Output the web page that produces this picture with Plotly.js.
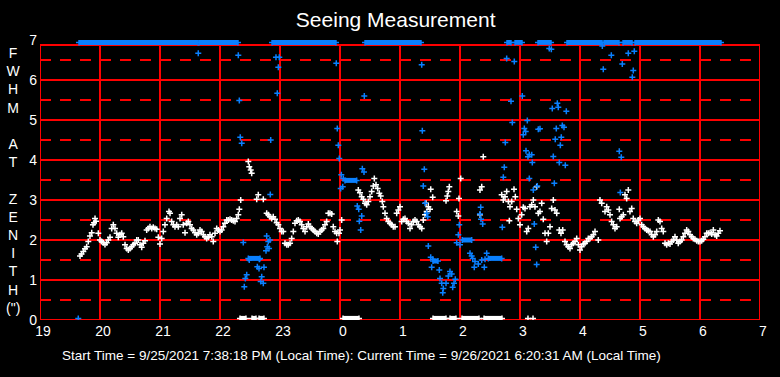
<!DOCTYPE html>
<html>
<head>
<meta charset="utf-8">
<script src="https://cdn.plot.ly/plotly-3.0.1.min.js"></script>
<style>html,body{margin:0;padding:0;background:#000;}#chart{width:780px;height:377px;}</style>
</head>
<body>
<div id="chart"></div>
<script>
// ---- tick labels (hours wrap past midnight; x is continuous hours 19..31) ----
const hourTicks = [19,20,21,22,23,24,25,26,27,28,29,30,31];
const hourLabels = ['19','20','21','22','23','0','1','2','3','4','5','6','7'];
const fwhmTicks = [0,1,2,3,4,5,6,7];

// ---- white series: FWHM at zenith (arcsec) ----
const whiteX = [19.667,19.692,19.722,19.75,19.778,19.805,19.833,19.862,19.883,19.9,19.917,19.933,19.972,20.0,20.025,20.055,20.083,20.112,20.138,20.167,20.195,20.222,20.25,20.278,20.305,20.333,20.362,20.388,20.417,20.445,20.472,20.5,20.528,20.555,20.583,20.612,20.638,20.667,20.695,20.722,20.75,20.778,20.805,20.833,20.862,20.888,20.917,20.945,20.972,21.0,21.028,21.055,21.083,21.112,21.15,21.167,21.195,21.222,21.25,21.278,21.305,21.333,21.362,21.388,21.417,21.445,21.472,21.5,21.528,21.555,21.583,21.612,21.638,21.667,21.695,21.722,21.75,21.778,21.805,21.833,21.862,21.888,21.917,21.945,21.972,22.0,22.028,22.055,22.083,22.112,22.138,22.167,22.195,22.222,22.25,22.278,22.305,22.322,22.345,22.472,22.488,22.512,22.528,22.612,22.638,22.722,22.778,22.805,22.833,22.862,22.888,22.917,22.945,22.972,23.0,23.028,23.055,23.083,23.112,23.138,23.167,23.195,23.222,23.25,23.278,23.305,23.333,23.362,23.388,23.417,23.445,23.472,23.5,23.528,23.555,23.583,23.612,23.638,23.667,23.695,23.722,23.75,23.778,23.805,23.833,23.862,23.888,23.917,23.945,23.955,23.983,24.0,24.028,24.305,24.333,24.362,24.388,24.417,24.445,24.472,24.5,24.528,24.555,24.572,24.6,24.628,24.655,24.678,24.705,24.722,24.75,24.778,24.805,24.833,24.862,24.888,24.917,24.945,24.972,25.0,25.028,25.055,25.083,25.112,25.138,25.167,25.195,25.222,25.25,25.278,25.305,25.333,25.362,25.388,25.417,25.433,25.445,25.472,25.5,25.512,25.545,25.767,25.788,25.805,25.822,25.945,25.972,25.983,26.012,26.333,26.333,26.362,26.388,26.695,26.722,26.75,26.778,26.805,26.822,26.833,26.862,26.9,26.922,26.945,26.972,27.0,27.028,27.055,27.083,27.112,27.138,27.167,27.195,27.222,27.25,27.278,27.305,27.333,27.362,27.388,27.417,27.445,27.472,27.5,27.528,27.555,27.583,27.612,27.655,27.683,27.712,27.75,27.778,27.805,27.833,27.862,27.888,27.917,27.945,27.972,28.0,28.028,28.055,28.083,28.112,28.138,28.167,28.195,28.222,28.25,28.305,28.333,28.362,28.417,28.445,28.472,28.5,28.528,28.555,28.583,28.612,28.655,28.667,28.695,28.722,28.75,28.778,28.805,28.833,28.862,28.888,28.917,28.945,28.972,29.0,29.028,29.055,29.083,29.112,29.138,29.167,29.195,29.222,29.25,29.278,29.305,29.333,29.362,29.388,29.417,29.445,29.472,29.5,29.528,29.555,29.583,29.612,29.638,29.667,29.695,29.722,29.75,29.778,29.805,29.833,29.862,29.888,29.917,29.945,29.972,30.0,30.028,30.055,30.083,30.112,30.138,30.167,30.195,30.222,30.25,30.278,30.305,30.333,27.133,27.217];
const whiteY = [1.60,1.65,1.71,1.78,1.83,1.96,2.10,2.18,2.38,2.43,2.54,2.47,2.17,2.0,1.96,1.93,1.89,1.93,2.0,2.07,2.29,2.38,2.29,2.17,2.07,2.13,2.17,2.08,1.88,1.79,1.75,1.79,1.83,1.88,1.92,2.0,2.0,1.88,1.82,1.92,1.98,2.25,2.29,2.33,2.29,2.32,2.29,2.27,2.07,1.90,2.04,2.21,2.38,2.54,2.71,2.67,2.46,2.38,2.33,2.38,2.33,2.54,2.63,2.38,2.18,2.42,2.46,2.38,2.29,2.25,2.18,2.13,2.17,2.25,2.21,2.13,2.08,2.04,2.07,2.13,2.08,1.96,2.17,2.29,2.25,2.21,2.25,2.33,2.42,2.50,2.50,2.52,2.50,2.48,2.46,2.54,2.63,2.77,3.0,3.96,3.83,3.75,3.67,3.02,3.13,3.02,2.67,2.63,2.58,2.54,2.58,2.52,2.43,2.38,2.29,2.21,2.21,1.92,1.88,1.88,1.92,2.04,2.21,2.42,2.48,2.50,2.46,2.38,2.29,2.21,2.33,2.40,2.33,2.29,2.25,2.21,2.17,2.15,2.21,2.25,2.29,2.38,2.46,2.67,2.67,2.65,2.33,2.21,2.17,1.96,2.17,2.25,2.50,3.25,3.18,3.08,3.02,2.92,2.88,2.96,3.08,3.21,3.35,3.54,3.38,3.29,3.17,3.10,2.96,2.83,2.67,2.54,2.46,2.42,2.38,2.33,2.33,2.67,2.75,2.83,2.46,2.52,2.54,2.46,2.42,2.29,2.38,2.46,2.50,2.46,2.38,2.33,2.29,2.50,2.63,2.92,2.71,2.83,2.77,3.27,3.07,2.98,3.10,3.21,3.33,2.71,2.60,3.04,3.54,2.63,3.25,3.33,4.08,3.13,3.0,3.08,3.21,2.96,2.48,2.83,2.96,3.27,3.08,2.77,2.54,2.38,2.63,2.82,2.79,2.21,2.29,2.83,2.88,3.0,2.83,3.33,2.67,2.71,2.92,2.52,2.17,1.96,2.17,2.33,2.79,3.0,2.75,2.67,2.25,2.17,2.25,1.96,1.88,1.83,1.79,1.88,1.92,1.96,2.04,1.88,1.75,1.83,1.90,1.92,1.96,2.04,2.04,2.08,2.13,2.21,2.0,3.0,2.92,2.71,2.83,2.75,2.63,2.46,2.38,2.29,2.33,2.77,2.54,2.58,2.63,3.13,3.04,3.25,2.71,2.79,2.54,2.46,2.42,2.50,2.54,2.38,2.33,2.29,2.25,2.23,2.21,2.13,2.08,2.13,2.21,2.50,2.46,2.29,2.21,1.92,1.88,1.92,1.90,1.96,2.0,2.08,2.0,1.92,1.96,2.0,2.08,2.17,2.25,2.21,2.13,2.08,2.04,2.02,1.98,1.96,1.96,1.98,2.02,2.08,2.17,2.17,2.18,2.15,2.25,2.13,2.10,2.17,2.23,0.04,0.04];

// ---- blue series ----
const blueX = [19.638,21.638,22.305,22.322,22.338,22.362,22.388,22.405,22.422,22.445,22.488,22.622,22.65,22.655,22.678,22.695,22.722,22.733,22.767,22.778,22.788,22.805,22.817,22.833,22.838,22.845,22.933,22.955,22.972,22.988,23.938,23.955,23.972,23.988,24.012,24.022,24.045,24.055,24.288,24.312,24.322,24.345,24.362,24.372,24.4,24.405,25.362,25.372,25.388,25.405,25.417,25.445,25.462,25.472,25.512,25.528,25.545,25.655,25.667,25.695,25.712,25.722,25.767,25.805,25.833,25.862,25.878,25.9,25.922,25.945,25.972,25.988,26.0,26.167,26.195,26.212,26.238,26.25,26.305,26.333,26.345,26.35,26.362,26.378,26.405,26.417,26.445,26.705,26.722,26.738,26.755,26.778,26.85,26.872,26.905,27.038,27.055,27.072,27.095,27.1,27.122,27.133,27.155,27.155,27.195,27.205,27.222,27.238,27.262,27.278,27.288,27.305,27.333,27.488,27.522,27.538,27.555,27.572,27.588,27.605,27.622,27.638,27.655,27.672,27.688,27.705,27.733,27.755,27.772,28.372,28.388,28.522,28.655,28.672,28.688,28.705,28.805,28.872,28.888,28.905];
const blueY = [0.04,6.67,6.62,5.49,4.57,4.42,1.94,0.83,1.04,1.13,1.50,1.33,1.29,1.52,0.96,1.08,0.92,1.32,1.73,2.10,1.83,1.96,1.79,2.0,3.14,4.50,6.57,5.67,6.32,6.57,6.42,4.79,4.37,4.04,3.29,3.63,3.33,3.54,2.85,2.77,2.47,2.25,2.60,3.78,3.70,5.60,6.38,4.73,3.35,3.77,2.92,2.67,2.58,1.85,1.57,1.32,1.52,1.25,1.04,0.92,0.68,0.79,0.92,1.10,1.21,1.15,0.82,0.92,1.02,1.93,2.13,2.38,1.88,1.67,1.60,1.54,1.32,1.46,1.40,2.65,2.82,2.52,1.50,2.40,1.32,1.52,1.67,2.32,3.57,3.82,4.44,6.54,5.47,4.94,6.46,5.60,4.63,4.79,4.71,4.23,4.99,4.08,4.14,3.54,4.13,3.94,3.25,2.40,1.82,1.39,3.35,4.77,4.78,6.79,6.77,5.29,4.09,3.42,4.52,4.79,5.42,5.32,3.94,4.37,4.57,4.86,4.82,3.87,5.22,6.85,6.27,6.62,4.22,3.19,4.07,6.40,6.67,6.07,6.24,6.72];

// ---- dense runs of blue readings (drawn as solid runs) ----
const blueRunStart = [19.65,21.65,22.867,24.417,26.783,26.917,27.3,27.783,28.4,28.717,28.917,22.472,24.083,25.55,26.038,26.472];
const blueRunEnd   = [21.633,22.3,23.933,25.35,26.85,27.033,27.517,28.367,28.65,28.867,30.35,22.667,24.278,25.633,26.195,26.695];
const blueRunY     = [6.94,6.94,6.94,6.94,6.94,6.94,6.94,6.94,6.94,6.94,6.94,1.54,3.49,1.475,2.0,1.54];

// ---- dense runs of white readings at the bottom ----
const whiteRunStart = [22.333,22.533,22.65,24.05,25.55,25.833,26.033,26.4];
const whiteRunEnd   = [22.433,22.6,22.733,24.317,25.767,25.933,26.317,26.7];
const whiteRunY     = [0.04,0.04,0.04,0.04,0.04,0.04,0.04,0.04];

const WHITE = '#ffffff', BLUE = '#0a80ff', RED = '#ff0000';
const FONT = 'Liberation Sans Narrow, Arial Narrow, Liberation Sans, Arial, sans-serif';

function runs(s, e, y) {
  const xs = [], ys = [];
  for (let i = 0; i < s.length; i++) { xs.push(s[i], e[i], null); ys.push(y[i], y[i], null); }
  return {x: xs, y: ys};
}
const br = runs(blueRunStart, blueRunEnd, blueRunY);
const wr = runs(whiteRunStart, whiteRunEnd, whiteRunY);

const mk = (c) => ({symbol: 'cross-thin', size: 4.3, line: {color: c, width: 1.5}, color: c});

const traces = [
  {x: whiteX, y: whiteY, type: 'scatter', mode: 'markers', marker: mk(WHITE), hoverinfo: 'skip'},
  {x: wr.x, y: wr.y, type: 'scatter', mode: 'lines+markers', line: {color: WHITE, width: 5}, marker: mk(WHITE), connectgaps: false, hoverinfo: 'skip'},
  {x: blueX, y: blueY, type: 'scatter', mode: 'markers', marker: mk(BLUE), hoverinfo: 'skip'},
  {x: br.x, y: br.y, type: 'scatter', mode: 'lines+markers', line: {color: BLUE, width: 5}, marker: mk(BLUE), connectgaps: false, hoverinfo: 'skip'}
];

const TOP = 6.875;
const GL = {color: RED, width: 2};
const shapes = [];
hourTicks.forEach(h => shapes.push({type: 'line', layer: 'below', xref: 'x', yref: 'y', x0: h, x1: h, y0: 0, y1: TOP, line: GL}));
for (let v = 0; v <= 6; v++) shapes.push({type: 'line', layer: 'below', xref: 'paper', yref: 'y', x0: 0, x1: 1, y0: v, y1: v, line: GL});
shapes.push({type: 'line', layer: 'below', xref: 'paper', yref: 'y', x0: 0, x1: 1, y0: TOP, y1: TOP, line: GL});
for (let v = 0.5; v < 7; v += 1) shapes.push({type: 'line', layer: 'below', xref: 'paper', yref: 'y', x0: 0, x1: 1, y0: v, y1: v, line: {color: RED, width: 2, dash: '11px,9px'}});

const layout = {
  width: 780, height: 377,
  margin: {l: 40, r: 20, t: 40, b: 57},
  paper_bgcolor: '#000', plot_bgcolor: '#000',
  showlegend: false,
  title: {text: 'Seeing Measurement', x: 0.494, xref: 'paper', xanchor: 'center', y: 0.947, yanchor: 'middle', font: {family: 'Liberation Sans, Arial, sans-serif', size: 21, color: WHITE}},
  xaxis: {range: [19, 31], tickvals: hourTicks, ticktext: hourLabels, showgrid: false, zeroline: false, showline: false, ticks: '', ticklabelshift: 3, ticklabelstandoff: 1, tickfont: {family: FONT, size: 14, color: WHITE}, fixedrange: true},
  yaxis: {range: [0, 7], tickvals: fwhmTicks, showgrid: false, zeroline: false, showline: false, ticks: '', ticklabelstandoff: 2, tickfont: {family: FONT, size: 14, color: WHITE}, fixedrange: true},
  shapes: shapes,
  annotations: [
    {xref: 'paper', yref: 'paper', x: -0.0375, y: 0.5, xanchor: 'center', yanchor: 'middle', showarrow: false, align: 'center',
     text: 'F<br>W<br>H<br>M<br> <br>A<br>T<br> <br>Z<br>E<br>N<br>I<br>T<br>H<br>(")', font: {family: 'Liberation Sans, Arial, sans-serif', size: 14, color: WHITE}},
    {xref: 'paper', yref: 'paper', x: 0.447, y: -0.125, xanchor: 'center', yanchor: 'middle', showarrow: false,
     text: 'Start Time = 9/25/2021 7:38:18 PM (Local Time): Current Time = 9/26/2021 6:20:31 AM (Local Time)', font: {family: FONT, size: 13.5, color: WHITE}}
  ]
};

Plotly.newPlot('chart', traces, layout, {staticPlot: true, displayModeBar: false});
</script>
</body>
</html>
